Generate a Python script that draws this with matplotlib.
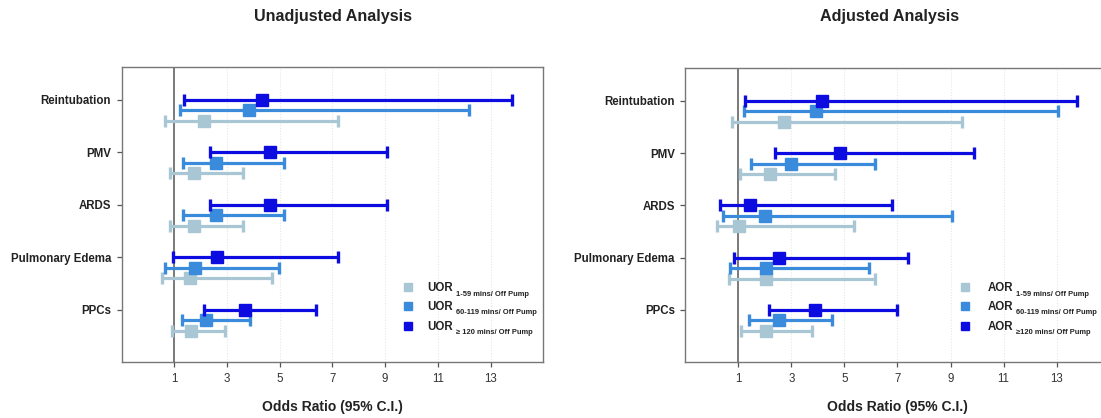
import matplotlib
matplotlib.use("Agg")
import matplotlib.pyplot as plt
from matplotlib.lines import Line2D

plt.rcParams['font.family'] = ['Liberation Sans', 'DejaVu Sans']

# Outcomes, top to bottom
categories = ["Reintubation", "PMV", "ARDS", "Pulmonary Edema", "PPCs"]

# Unadjusted odds ratios with 95% CI, by CPB duration group
u_short_or = [2.12, 1.75, 1.75, 1.59, 1.62]
u_short_lo = [0.64, 0.85, 0.85, 0.54, 0.91]
u_short_hi = [7.20, 3.62, 3.62, 4.71, 2.92]

u_mid_or = [3.84, 2.60, 2.60, 1.79, 2.20]
u_mid_lo = [1.22, 1.32, 1.32, 0.64, 1.28]
u_mid_hi = [12.20, 5.15, 5.15, 4.98, 3.86]

u_long_or = [4.33, 4.62, 4.62, 2.63, 3.70]
u_long_lo = [1.38, 2.36, 2.36, 0.95, 2.13]
u_long_hi = [13.82, 9.08, 9.08, 7.22, 6.39]

# Adjusted odds ratios with 95% CI
a_short_or = [2.73, 2.21, 1.03, 2.04, 2.04]
a_short_lo = [0.78, 1.05, 0.19, 0.65, 1.10]
a_short_hi = [9.43, 4.65, 5.36, 6.14, 3.77]

a_mid_or = [3.94, 3.00, 2.01, 2.04, 2.53]
a_mid_lo = [1.20, 1.47, 0.44, 0.67, 1.40]
a_mid_hi = [13.04, 6.14, 9.04, 5.94, 4.55]

a_long_or = [4.16, 4.82, 1.43, 2.52, 3.90]
a_long_lo = [1.26, 2.37, 0.31, 0.84, 2.14]
a_long_hi = [13.78, 9.88, 6.79, 7.41, 7.00]

x_ticks = [1, 3, 5, 7, 9, 11, 13]
group_labels = ["1-59 mins/ Off Pump", "60-119 mins/ Off Pump", "\u2265 120 mins/ Off Pump"]
group_labels_adj = ["1-59 mins/ Off Pump", "60-119 mins/ Off Pump", "\u2265120 mins/ Off Pump"]

C_LIGHT = "#a9c6d4"
C_MID = "#3a8bdc"
C_DARK = "#0c0ce0"

W, H = 1101, 418
fig = plt.figure(figsize=(W / 100, H / 100), dpi=100)


def fx(px):
    return px / W


def fy(py):
    return 1 - py / H


def forest(ax, series, title, title_x, prefix, sublabels, leg_x, text_gap):
    n = len(categories)
    base = [n - i for i in range(n)]
    offsets = [0.4, 0.2, 0.0]
    colors = [C_LIGHT, C_MID, C_DARK]
    for k, (orv, lo, hi) in enumerate(series):
        ys = [b - offsets[k] for b in base]
        xerr = [[o - l for o, l in zip(orv, lo)], [h - o for o, h in zip(orv, hi)]]
        ax.errorbar(orv, ys, xerr=xerr, fmt='s', color=colors[k], ecolor=colors[k],
                    elinewidth=2.3, capsize=4.2, capthick=2.4, markersize=8,
                    zorder=3 + k)
    ax.axvline(1, color="#555555", lw=1.1, zorder=2)
    ax.set_xlim(-1, 15)
    ax.set_ylim(0, 5.62)
    ax.set_xticks(x_ticks)
    ax.set_xticklabels([str(t) for t in x_ticks], fontsize=8.3, color="#333333")
    ax.set_yticks(base)
    ax.set_yticklabels(categories, fontsize=8.3, fontweight='bold', color="#222222")
    ax.tick_params(axis='both', length=3.5, width=0.9, color="#555555", pad=4)
    for t in x_ticks[1:]:
        ax.axvline(t, color="#e6e6e6", lw=0.8, ls=(0, (1, 1.5)), zorder=1)
    for s in ax.spines.values():
        s.set_color("#777777")
        s.set_linewidth(1.0)
    ax.set_xlabel("Odds Ratio (95% C.I.)", fontsize=10, fontweight='bold',
                  color="#222222", labelpad=11)
    fig.text(fx(title_x), fy(17), title, fontsize=11.6, fontweight='bold',
             ha='center', va='center', color="#222222")

    # legend drawn as squares, group name and small subscript
    leg_y = [286.7, 305.5, 325.5]
    for k in range(3):
        fig.add_artist(Line2D([fx(leg_x)], [fy(leg_y[k])], marker='s',
                              markersize=6.4, color=colors[k], lw=0,
                              transform=fig.transFigure))
        t = fig.text(fx(leg_x + text_gap), fy(leg_y[k] + 4.0), prefix, fontsize=8.3,
                     fontweight='bold', ha='left', va='baseline', color="#222222")
        ax.annotate(sublabels[k], xy=(1, 0), xycoords=t, xytext=(2.0, -1.4),
                    textcoords='offset points', fontsize=5.4, fontweight='bold',
                    ha='left', va='baseline', color="#222222")


ax1 = fig.add_axes([fx(121.5), fy(362.3), fx(421.8), 295 / H])
forest(ax1,
       [(u_short_or, u_short_lo, u_short_hi),
        (u_mid_or, u_mid_lo, u_mid_hi),
        (u_long_or, u_long_lo, u_long_hi)],
       "Unadjusted Analysis", 332.5, "UOR", group_labels, 408.3, 19)

ax2 = fig.add_axes([fx(685.2), fy(362.3), fx(424.5), 294 / H])
forest(ax2,
       [(a_short_or, a_short_lo, a_short_hi),
        (a_mid_or, a_mid_lo, a_mid_hi),
        (a_long_or, a_long_lo, a_long_hi)],
       "Adjusted Analysis", 890, "AOR", group_labels_adj, 965, 23)

fig.savefig("out.png", dpi=100)
